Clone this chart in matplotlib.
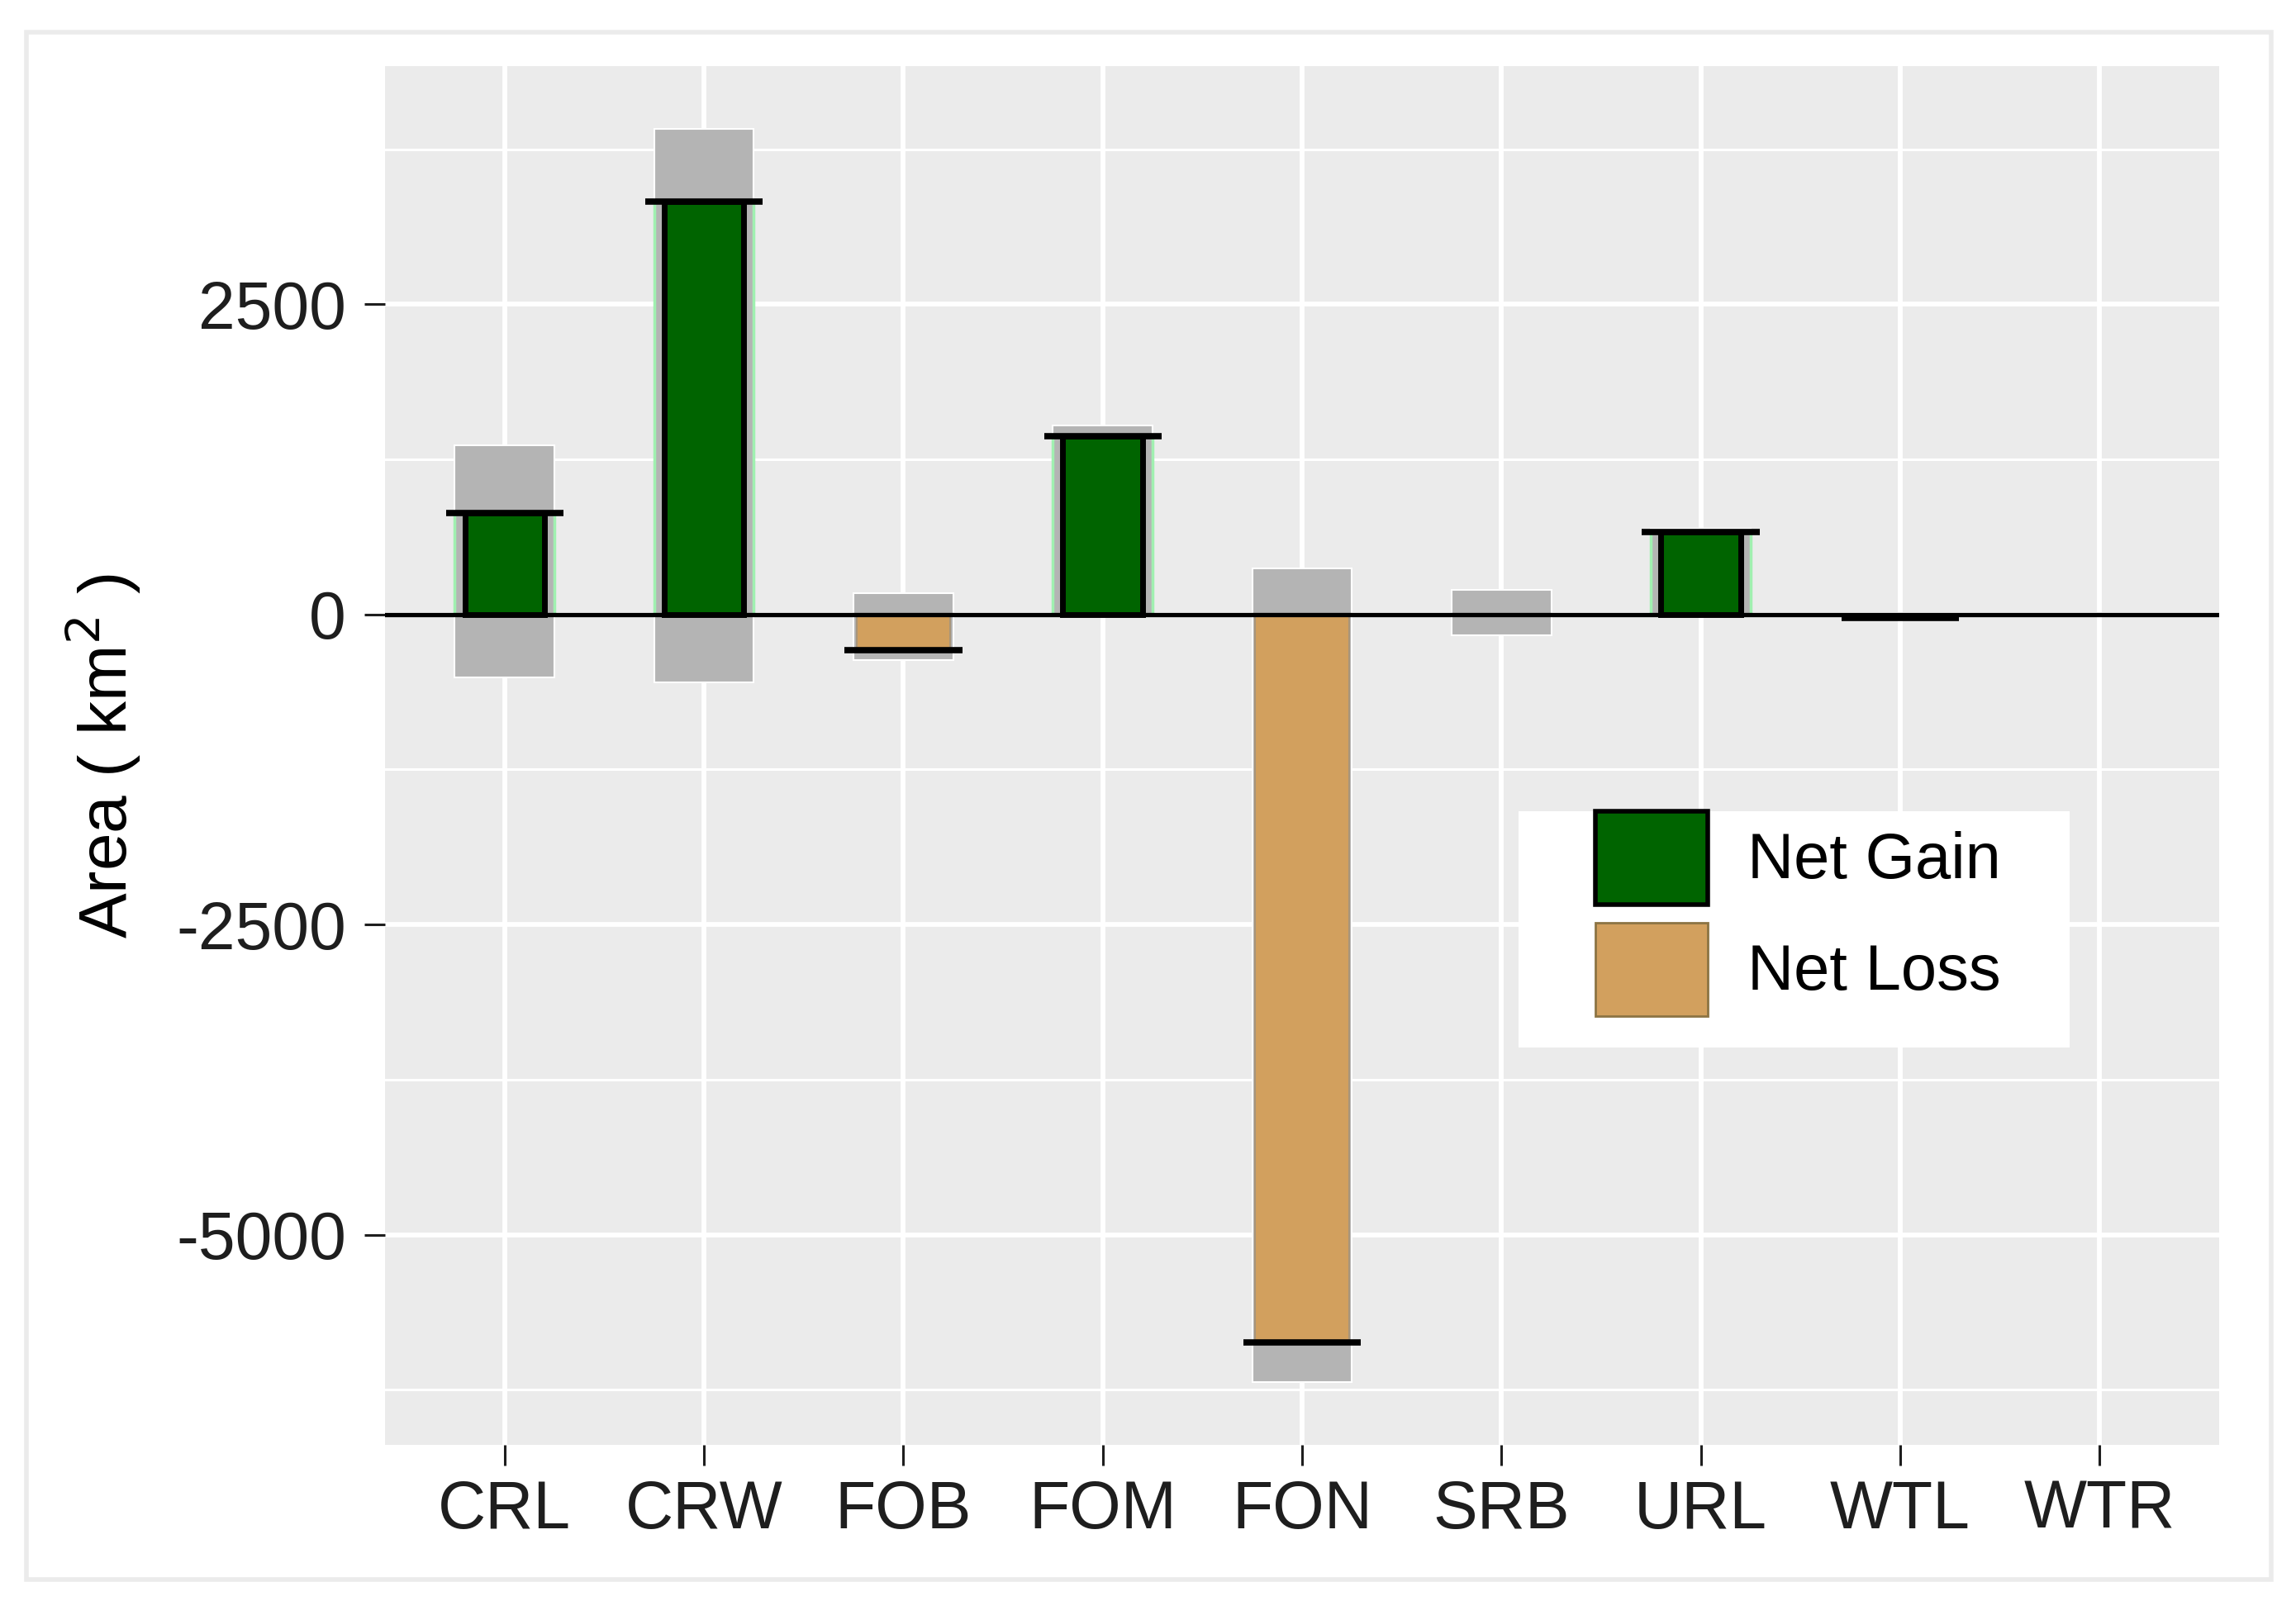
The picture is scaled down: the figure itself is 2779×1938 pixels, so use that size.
"""
Net gain / net loss per land cover class, with gross gain and loss behind
"""

import numpy as np
import matplotlib
matplotlib.use("Agg")
import matplotlib.pyplot as plt
from matplotlib.patches import Patch, Rectangle

# Data (km2)
categories = ['CRL', 'CRW', 'FOB', 'FOM', 'FON', 'SRB', 'URL', 'WTL', 'WTR']
gross_gain = [1360, 3910, 170, 1520, 370, 200, 690, 0, 0]
gross_loss = [-510, -545, -370, 0, -6190, -170, 0, -20, 0]
net_change = [820, 3330, -290, 1435, -5870, 0, 665, -30, 0]

y_ticks = [-5000, -2500, 0, 2500]
y_minor = [-6250, -3750, -1250, 1250, 3750]

# Style
GREEN = '#006400'
TAN = '#D2A05E'
GREY = '#B4B4B4'
PANEL = '#EBEBEB'

plt.rcParams['font.family'] = ['Liberation Sans', 'DejaVu Sans']

fig = plt.figure(figsize=(27.79, 19.38), dpi=100)
ax = fig.add_axes([0.1677, 0.0975, 0.7988, 0.8612])
ax.set_facecolor(PANEL)

x = np.arange(1, len(categories) + 1)
net = np.array(net_change)

# gridlines (ggplot style)
for v in y_minor:
    ax.axhline(v, color='white', lw=2.2, zorder=0)
for v in y_ticks:
    ax.axhline(v, color='white', lw=4.2, zorder=0)
for xi in x:
    ax.axvline(xi, color='white', lw=4.2, zorder=0)

# gross gain / gross loss in grey
ax.bar(x, gross_gain, width=0.5, color=GREY, edgecolor='white', linewidth=1.5, zorder=2)
ax.bar(x, gross_loss, width=0.5, color=GREY, edgecolor='white', linewidth=1.5, zorder=2)

# net bars
pos = net > 0
neg = net < 0
ax.bar(x[pos], net[pos], width=0.5, facecolor='none', edgecolor='#A0F0B0',
       linewidth=2.5, zorder=3)
ax.bar(x[pos], net[pos], width=0.4, color=GREEN, edgecolor='black',
       linewidth=5.0, zorder=4)
ax.bar(x[neg], net[neg], width=0.47, color=TAN, edgecolor='#A8957A',
       linewidth=1.5, zorder=4)

# net value marker
ax.hlines(net[pos | neg], x[pos | neg] - 0.295, x[pos | neg] + 0.295,
          color='black', lw=5.5, zorder=5)

ax.axhline(0, color='black', lw=3.8, zorder=6)

ax.set_xlim(0.4, len(categories) + 0.6)
ax.set_ylim(-6694, 4419)
ax.set_xticks(x)
ax.set_xticklabels(categories)
ax.set_yticks(y_ticks)
ax.set_yticklabels([str(v) for v in y_ticks])
ax.tick_params(axis='both', labelsize=58, colors='#1E1E1E', length=18, width=2.2, pad=16)
ax.tick_params(axis='x', pad=12)
for s in ax.spines.values():
    s.set_visible(False)

ax.set_ylabel('Area ( km$^2$ )', fontsize=59, labelpad=29, color='black')

# legend: white box plus frameless legend on top of it
ax.add_patch(Rectangle((0.618, 0.2882), 0.3005, 0.1714, transform=ax.transAxes,
                       facecolor='white', edgecolor='none', zorder=9))
handles = [Patch(facecolor=GREEN, edgecolor='black', linewidth=4),
           Patch(facecolor=TAN, edgecolor='#8C7444', linewidth=2)]
leg = ax.legend(handles, ['Net Gain', 'Net Loss'], loc='upper left',
                bbox_to_anchor=(0.66, 0.4596), fontsize=56, frameon=False,
                handlelength=1.75, handleheight=1.85,
                labelspacing=0.29, handletextpad=0.62, borderpad=0,
                borderaxespad=0)
leg.set_zorder(10)

# outer light grey frame around the figure
fig.patches.append(Rectangle((32 / 2779, 1 - 1912 / 1938), (2749 - 32) / 2779,
                             (1912 - 39) / 1938, transform=fig.transFigure,
                             fill=False, edgecolor='#EBEBEB', linewidth=4))

fig.savefig('out.png', dpi=100)
